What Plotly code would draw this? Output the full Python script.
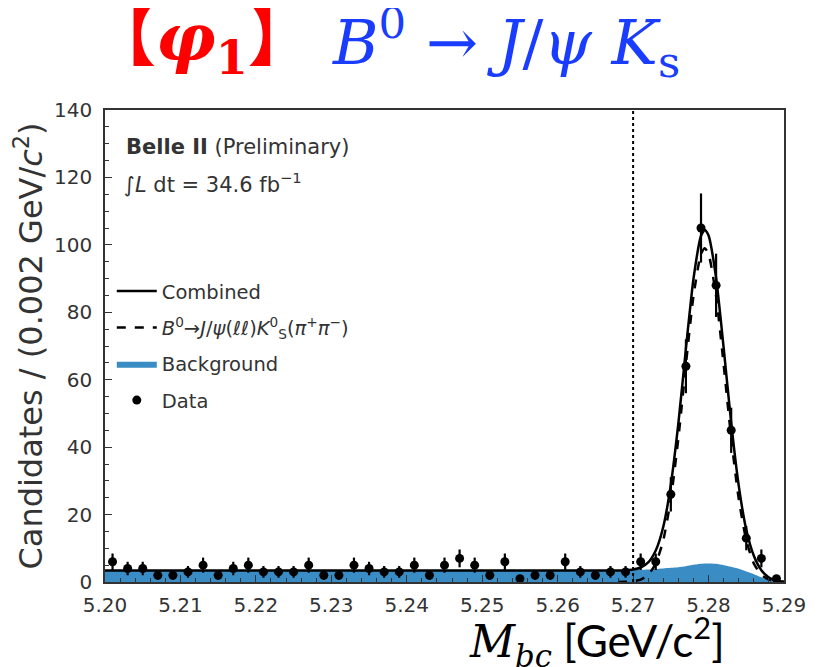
import plotly.graph_objects as go
import numpy as np

# ---------------- data ----------------
bin_centers = [5.201, 5.203, 5.205, 5.207, 5.209, 5.211, 5.213, 5.215, 5.217, 5.219,
               5.221, 5.223, 5.225, 5.227, 5.229, 5.231, 5.233, 5.235, 5.237, 5.239,
               5.241, 5.243, 5.245, 5.247, 5.249, 5.251, 5.253, 5.255, 5.257, 5.259,
               5.261, 5.263, 5.265, 5.267, 5.269, 5.271, 5.273, 5.275, 5.277, 5.279,
               5.281, 5.283, 5.285, 5.287, 5.289]
counts = [6, 4, 4, 2, 2, 3, 5, 2, 4, 5,
          3, 3, 3, 5, 2, 2, 5, 4, 3, 3,
          5, 2, 5, 7, 5, 2, 6, 1, 2, 2,
          6, 3, 2, 3, 3, 6, 6, 26, 64, 105,
          88, 45, 13, 7, 1]

fit_x = [5.200, 5.210, 5.220, 5.230, 5.240, 5.250, 5.260, 5.266,
         5.268, 5.269, 5.270, 5.271, 5.272, 5.273, 5.274, 5.275, 5.276, 5.277,
         5.278, 5.279, 5.2795, 5.280, 5.281, 5.282, 5.283, 5.284, 5.285, 5.286,
         5.287, 5.288, 5.289, 5.290]
background = [3.4, 3.4, 3.4, 3.4, 3.4, 3.4, 3.4, 3.4,
              3.4, 3.45, 3.5, 3.6, 3.7, 3.85, 4.0, 4.2, 4.4, 4.7,
              5.1, 5.4, 5.5, 5.5, 5.4, 5.0, 4.5, 3.9, 3.1, 2.3,
              1.4, 0.6, 0.1, 0.0]
signal = [0.0, 0.0, 0.0, 0.0, 0.0, 0.0, 0.0, 0.0,
          0.02, 0.05, 0.2, 0.7, 2.1, 5.5, 12.4, 24.7, 42.7, 64.5,
          84.8, 97.3, 99.0, 97.3, 84.8, 64.5, 42.7, 24.7, 12.4, 5.5,
          2.1, 0.7, 0.2, 0.05]

signal_cut = 5.27
x_ticks = [5.20, 5.21, 5.22, 5.23, 5.24, 5.25, 5.26, 5.27, 5.28, 5.29]
x_tick_labels = ["5.20", "5.21", "5.22", "5.23", "5.24", "5.25", "5.26", "5.27", "5.28", "5.29"]
y_ticks = [0, 20, 40, 60, 80, 100, 120, 140]

# ---------------- derived ----------------
combined = [b + s for b, s in zip(background, signal)]
errors = [float(np.sqrt(c)) for c in counts]
sig_start = fit_x.index(5.268)

BLUE = "#3a8cc4"
TXT = "#333333"
SANS = "DejaVu Sans"
SERIF = "DejaVu Serif"

fig = go.Figure()

fig.add_trace(go.Scatter(
    x=fit_x, y=background, mode="lines", fill="tozeroy",
    fillcolor=BLUE, line=dict(color=BLUE, width=0, shape="spline", smoothing=0.6),
    name="Background", legendrank=3, legendgroup="c"))

fig.add_trace(go.Scatter(
    x=fit_x[sig_start:], y=signal[sig_start:], mode="lines",
    line=dict(color="black", width=2.5, dash="dash", shape="spline", smoothing=0.6),
    name="<i>B</i><sup>0</sup>→<i>J</i>/<i>ψ</i>(<i>ℓℓ</i>)<i>K</i><sup>0</sup><sub>S</sub>(<i>π</i><sup>+</sup><i>π</i><sup>−</sup>)",
    legendrank=2, legendgroup="b"))

fig.add_trace(go.Scatter(
    x=fit_x, y=combined, mode="lines",
    line=dict(color="black", width=2.5, shape="spline", smoothing=0.6),
    name="Combined", legendrank=1, legendgroup="a"))

fig.add_trace(go.Scatter(
    x=bin_centers, y=counts, mode="markers",
    marker=dict(color="black", size=9),
    error_y=dict(type="data", array=errors, visible=True, color="black",
                 thickness=2.2, width=0),
    name="Data", legendrank=4, legendgroup="d"))

fig.add_shape(type="line", xref="x", yref="y", x0=signal_cut, x1=signal_cut,
              y0=0, y1=140, line=dict(color="black", width=2, dash="dot"))

axis_common = dict(
    showgrid=False, zeroline=False, showline=True, linecolor="#333333",
    linewidth=1.5, mirror=True, ticks="inside", ticklen=7, tickwidth=1.2,
    tickcolor="#333333", tickfont=dict(family=SANS, size=20, color=TXT),
)

fig.update_xaxes(range=[5.20, 5.29], tickvals=x_ticks, ticktext=x_tick_labels,
                 ticklabelstandoff=4,
                 minor=dict(dtick=0.002, ticks="inside", ticklen=4, tickcolor="#333333"),
                 **axis_common)
fig.update_yaxes(range=[0, 140], tickvals=y_ticks, ticklabelstandoff=7,
                 minor=dict(dtick=5, ticks="inside", ticklen=4, tickcolor="#333333"),
                 title=dict(text="Candidates / (0.002 GeV/<i>c</i><sup>2</sup>)",
                            font=dict(family=SANS, size=32, color=TXT), standoff=2),
                 **axis_common)

annotations = [
    dict(text="<b>Belle II</b> (Preliminary)", x=0.028, y=0.922, xref="paper", yref="paper",
         xanchor="left", yanchor="middle", showarrow=False,
         font=dict(family=SANS, size=21, color=TXT)),
    dict(text="∫<i>L</i> dt = 34.6 fb<sup>−1</sup>", x=0.025, y=0.846, xref="paper", yref="paper",
         xanchor="left", yanchor="middle", showarrow=False,
         font=dict(family=SANS, size=21, color=TXT)),
    dict(text="<b>【<i>φ</i><sub>1</sub>】</b>", x=0.143, y=1.145, xref="paper", yref="paper",
         xanchor="center", yanchor="middle", showarrow=False,
         font=dict(family=SERIF + ", Noto Sans CJK SC", size=66, color="#ff0000")),
    dict(text="<i>B</i><sup>0</sup> → <i>J</i>/<i>ψ K</i><sub>s</sub>", x=0.331, y=1.142,
         xref="paper", yref="paper", xanchor="left", yanchor="middle", showarrow=False,
         font=dict(family=SERIF, size=62, color="#1a3cff")),
    dict(text="<span style='font-family:DejaVu Serif'><i>M</i><sub><i>bc</i></sub></span> [GeV/c<sup>2</sup>]",
         x=0.725, y=-0.052, xref="paper", yref="paper", xanchor="center", yanchor="top",
         showarrow=False, font=dict(family="Lato", size=44, color="black")),
]

# page body has an 8px margin: shrink the figure so the plot area lands where the reference has it
fig.update_layout(
    width=812, height=659,
    margin=dict(l=97, r=36, t=102, b=85),
    paper_bgcolor="white", plot_bgcolor="white",
    annotations=annotations,
    showlegend=True,
    legend=dict(x=0.01, y=0.657, xanchor="left", yanchor="top",
                bgcolor="rgba(0,0,0,0)", tracegroupgap=8, itemwidth=40,
                font=dict(family=SANS, size=19.5, color=TXT)),
)

fig.write_html("out.html")
